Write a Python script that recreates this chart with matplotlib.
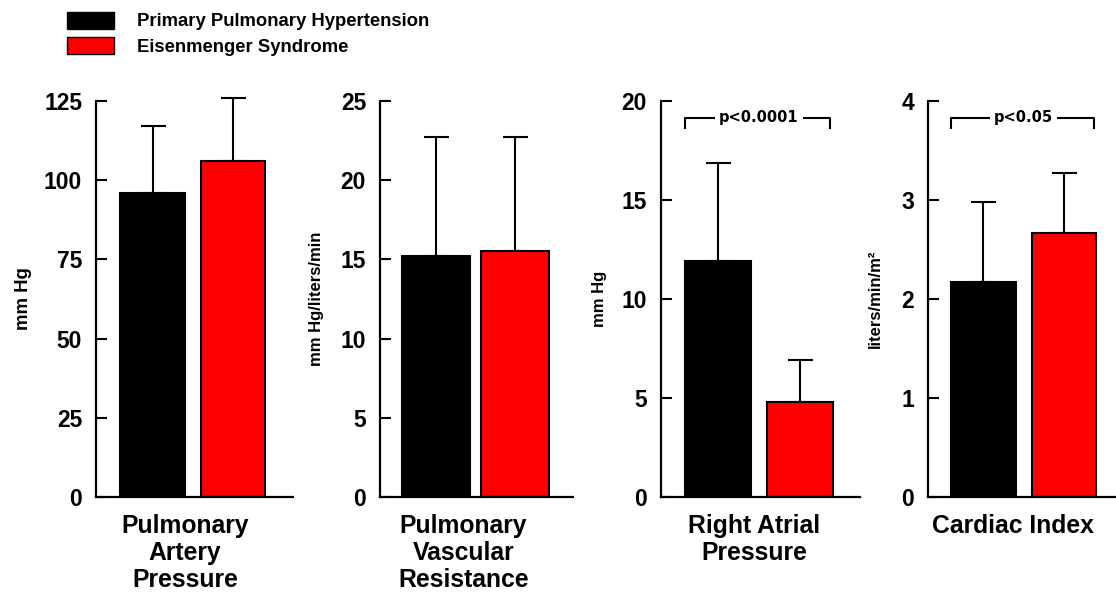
import matplotlib
matplotlib.use("Agg")
import matplotlib.pyplot as plt
from matplotlib.patches import Patch
from matplotlib.transforms import blended_transform_factory

plt.rcParams['font.family'] = ['Liberation Sans', 'DejaVu Sans']
plt.rcParams['font.weight'] = 'bold'

# ---- data ----
groups = ["Primary Pulmonary Hypertension", "Eisenmenger Syndrome"]
colors = ["#000000", "#ff0000"]
panels = ["Pulmonary\nArtery\nPressure", "Pulmonary\nVascular\nResistance",
          "Right Atrial\nPressure", "Cardiac Index"]
units = ["mm Hg", "mm Hg/liters/min", "mm Hg", "liters/min/m²"]
pph_mean = [96, 15.2, 11.9, 2.17]
pph_sd = [21, 7.5, 4.95, 0.81]
es_mean = [106, 15.5, 4.8, 2.67]
es_sd = [20, 7.2, 2.1, 0.6]
y_max = [125, 25, 20, 4]
y_ticks = [[0, 25, 50, 75, 100, 125], [0, 5, 10, 15, 20, 25],
           [0, 5, 10, 15, 20], [0, 1, 2, 3, 4]]
p_labels = [None, None, "p<0.0001", "p<0.05"]

W, H = 1116, 596
fig = plt.figure(figsize=(W / 100, H / 100), dpi=100)

# pixel layout: left edge, width of each axes
lefts = [96, 380, 661, 928]
widths = [197, 193, 199, 188]
top_px, bot_px = 101, 497
xlims = [(-0.71, 1.75), (-0.715, 1.73), (-0.70, 1.74), (-0.69, 1.65)]
bar_w = [0.81, 0.86, 0.81, 0.80]
ylab_x = [-0.37, -0.33, -0.31, -0.28]
ylab_fs = [13.4, 12, 12, 12]
lab_x = [0.40, 0.34, 0.44, 0.37]

for i in range(4):
    ax = fig.add_axes([lefts[i] / W, 1 - bot_px / H, widths[i] / W, (bot_px - top_px) / H])
    ax.bar([0], [pph_mean[i]], width=bar_w[i], color=colors[0], edgecolor='black', linewidth=1.5, zorder=2)
    ax.bar([1], [es_mean[i]], width=bar_w[i], color=colors[1], edgecolor='black', linewidth=1.5, zorder=2)
    eb = ax.errorbar([0, 1], [pph_mean[i], es_mean[i]],
                     yerr=[[0, 0], [pph_sd[i], es_sd[i]]],
                     fmt='none', ecolor='black', elinewidth=1.5, capsize=9, capthick=1.5, zorder=1)
    for art in eb.lines[1]:
        art.set_clip_on(False)
    for art in eb.lines[2]:
        art.set_clip_on(False)
    ax.set_xlim(*xlims[i])
    ax.set_ylim(0, y_max[i])
    ax.set_yticks(y_ticks[i])
    ax.set_yticklabels([str(t) for t in y_ticks[i]], fontsize=16.5, fontweight='bold')
    ax.tick_params(axis='y', direction='in', length=8, width=1.5, pad=10)
    ax.set_xticks([])
    for s in ['top', 'right']:
        ax.spines[s].set_visible(False)
    for s in ['left', 'bottom']:
        ax.spines[s].set_linewidth(1.6)
    ax.patch.set_alpha(0)
    ax.text(ylab_x[i], 0.5, units[i], transform=ax.transAxes, rotation=90,
            ha='center', va='center', fontsize=ylab_fs[i], fontweight='bold')
    tr = blended_transform_factory(ax.transData, ax.transAxes)
    ax.text(lab_x[i], -0.042, panels[i], transform=tr, ha='center', va='top',
            fontsize=17.8, fontweight='bold', linespacing=1.17)
    if p_labels[i]:
        yb = y_max[i] * 0.958
        yd = y_max[i] * 0.932
        x0 = -bar_w[i] / 2
        x1 = 1 + bar_w[i] / 2 - 0.03
        ax.plot([x0, x0, x1, x1], [yd, yb, yb, yd], color='black', lw=1.5, clip_on=False, zorder=3)
        ax.text(0.5, yb, p_labels[i], ha='center', va='center', fontsize=10.5,
                family='DejaVu Sans', fontweight='bold', zorder=4,
                bbox=dict(facecolor='white', edgecolor='none', pad=3))

handles = [Patch(facecolor=colors[0], edgecolor='black'),
           Patch(facecolor=colors[1], edgecolor='black')]
fig.legend(handles, groups, loc='upper left', bbox_to_anchor=(63 / W, 1 - 8 / H),
           frameon=False, prop={'size': 13.3, 'weight': 'bold'},
           handlelength=2.55, handleheight=1.03, handletextpad=1.25, labelspacing=0.38,
           borderaxespad=0, borderpad=0.2)

fig.savefig("out.png", dpi=100)
